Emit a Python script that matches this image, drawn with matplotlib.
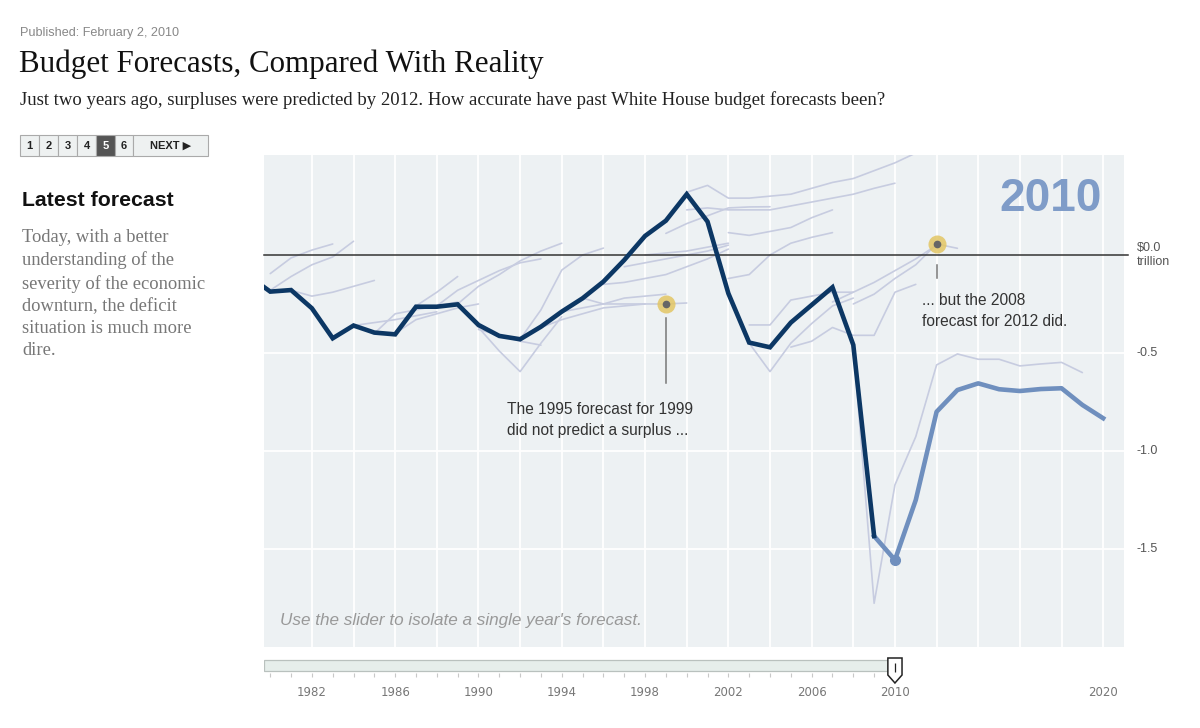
import matplotlib
matplotlib.use("Agg")
import matplotlib.pyplot as plt
from matplotlib.patches import Rectangle, Polygon

# ---- data: deficit (-) / surplus (+), trillions of dollars ----
actual_start = 1979
actual_values = [-0.11, -0.187, -0.179, -0.272, -0.425, -0.36, -0.396, -0.405,
                 -0.264, -0.264, -0.252, -0.357, -0.413, -0.43, -0.366, -0.289,
                 -0.221, -0.136, -0.026, 0.097, 0.175, 0.31, 0.17, -0.196,
                 -0.447, -0.471, -0.345, -0.255, -0.165, -0.459, -1.434]

# latest (2010) forecast, starts from the 2009 actual
latest_start = 2009
latest_values = [-1.434, -1.556, -1.25, -0.80, -0.689, -0.655, -0.685, -0.694,
                 -0.684, -0.68, -0.765, -0.833]

# older forecasts: first year plotted, values
forecast_starts = [1980, 1980, 1981, 1984, 1985, 1986, 1987, 1988, 1989, 1989,
                   1990, 1992, 1993, 1994, 1995, 1996, 1997, 1998, 1999, 2000,
                   2000, 2002, 2002, 2003, 2003, 2005, 2007, 2008, 2008]
forecast_values = [
    [-0.095, -0.015, 0.025, 0.056],
    [-0.18, -0.11, -0.05, -0.01, 0.07],
    [-0.18, -0.21, -0.19, -0.16, -0.13],
    [-0.36, -0.345, -0.33, -0.31, -0.29],
    [-0.40, -0.30, -0.28, -0.26, -0.24],
    [-0.40, -0.33, -0.30, -0.27, -0.25],
    [-0.26, -0.19, -0.11],
    [-0.26, -0.18, -0.13, -0.08, -0.04, -0.02],
    [-0.25, -0.16, -0.10, -0.03, 0.02, 0.06],
    [-0.25, -0.37, -0.49, -0.595, -0.45, -0.315],
    [-0.38, -0.41, -0.44, -0.46],
    [-0.43, -0.28, -0.077, 0.0, 0.035],
    [-0.37, -0.33, -0.30, -0.27, -0.26, -0.25],
    [-0.29, -0.27, -0.25, -0.22, -0.21, -0.20],
    [-0.22, -0.25, -0.25, -0.25, -0.25, -0.245],
    [-0.15, -0.14, -0.12, -0.10, -0.06, -0.02, 0.03],
    [-0.06, -0.04, -0.02, 0.0, 0.02, 0.05],
    [0.0, 0.01, 0.02, 0.04, 0.06],
    [0.11, 0.16, 0.20, 0.24, 0.245, 0.246],
    [0.23, 0.24, 0.23, 0.23, 0.23, 0.25, 0.27, 0.29, 0.31, 0.34, 0.366],
    [0.32, 0.355, 0.29, 0.29, 0.30, 0.31, 0.34, 0.37, 0.39, 0.43, 0.47, 0.52],
    [0.114, 0.10, 0.12, 0.14, 0.19, 0.23],
    [-0.12, -0.10, 0.0, 0.06, 0.09, 0.114],
    [-0.357, -0.357, -0.23, -0.21, -0.19, -0.19],
    [-0.45, -0.595, -0.45, -0.35, -0.26, -0.22],
    [-0.47, -0.44, -0.37, -0.41, -0.41, -0.19, -0.15],
    [-0.24, -0.19, -0.14, -0.08, -0.02, 0.05],
    [-0.25, -0.20, -0.12, -0.05, 0.056, 0.034],
    [-0.459, -1.777, -1.173, -0.927, -0.561, -0.505, -0.532, -0.532, -0.566,
     -0.556, -0.548, -0.60],
]

selected_year = 2010
tick_years = [1982, 1986, 1990, 1994, 1998, 2002, 2006, 2010, 2020]
y_ticks = [0.0, -0.5, -1.0, -1.5]
y_labels = ["\\$0.0\ntrillion", "-0.5", "-1.0", "-1.5"]
pages = ["1", "2", "3", "4", "5", "6", "NEXT \u25B6"]
current_page = "5"
notes = [  # (forecast made in, target year, text, text offset px, line px)
    (1995, 1999, "The 1995 forecast for 1999\ndid not predict a surplus ...", (-159, -98), (14, 79)),
    (2008, 2012, "... but the 2008\nforecast for 2012 did.", (-15, -49), (21, 34)),
]

SANS = ["Liberation Sans", "DejaVu Sans"]
SERIF = ["Liberation Serif", "DejaVu Serif"]

fig = plt.figure(figsize=(12, 7.28), dpi=100)

# background / page furniture in pixel coordinates
bg = fig.add_axes([0, 0, 1, 1], zorder=-1)
bg.set_xlim(0, 1200)
bg.set_ylim(728, 0)
bg.axis("off")

bg.text(20, 33, "Published: February 2, 2010", fontsize=9.1, color="#888888",
        family=SANS, va="center")
bg.text(19, 64, "Budget Forecasts, Compared With Reality", fontsize=22.3,
        color="#111111", family=SERIF, va="center")
bg.text(20, 100, "Just two years ago, surpluses were predicted by 2012. How accurate "
        "have past White House budget forecasts been?", fontsize=13.5,
        color="#222222", family=SERIF, va="center")

# pager buttons
edges = [20, 39, 58, 77, 96, 115, 133, 208]
for i, lab in enumerate(pages):
    active = lab == current_page
    bg.add_patch(Rectangle((edges[i], 135), edges[i + 1] - edges[i], 21,
                           fc="#555555" if active else "#eef1f1",
                           ec="#aaaaaa", lw=0.8))
    bg.text((edges[i] + edges[i + 1]) / 2, 146, lab, fontsize=8,
            color="white" if active else "#222222", family=SANS,
            weight="bold", ha="center", va="center")

bg.text(22, 200, "Latest forecast", fontsize=15.3, weight="bold",
        color="#111111", family=SANS, va="center")
bg.text(22, 229, "Today, with a better\nunderstanding of the\nseverity of the economic\n"
        "downturn, the deficit\nsituation is much more\ndire.", fontsize=13.3,
        color="#777777", family=SERIF, va="top", linespacing=1.40)

# ---- main chart ----
ax = fig.add_axes([264 / 1200, 1 - 647 / 728, 860 / 1200, 492 / 728])
ax.set_facecolor("#edf1f3")
ax.set_xlim(1979.7, 2021.0)
ax.set_ylim(-2.0, 0.51)
for s in ax.spines.values():
    s.set_visible(False)
ax.set_xticks(range(1982, 2021, 2))
ax.set_yticks([v for v in y_ticks if v != 0])
ax.grid(True, color="white", lw=1.3)
ax.tick_params(length=0, labelbottom=False, labelleft=False)
ax.set_axisbelow(True)

for start, vals in zip(forecast_starts, forecast_values):
    ax.plot(range(start, start + len(vals)), vals, color="#c7cce0", lw=1.2,
            zorder=2, solid_capstyle="round")

ax.plot([0, 1.005], [0, 0], transform=ax.get_yaxis_transform(),
        color="#333333", lw=1.1, clip_on=False, zorder=3)

ax.plot(range(actual_start, actual_start + len(actual_values)), actual_values,
        color="#0c3764", lw=3.3, zorder=5, solid_joinstyle="miter")
ax.plot(range(latest_start, latest_start + len(latest_values)), latest_values,
        color="#6f8fbe", lw=3.3, zorder=4)
ax.plot(selected_year, latest_values[selected_year - latest_start], "o",
        color="#6f8fbe", ms=7, zorder=6)

for v, lab in zip(y_ticks, y_labels):
    ax.text(1.015, v, lab, transform=ax.get_yaxis_transform(), fontsize=9,
            color="#555555", family=SANS, va="center", linespacing=1.15)

ax.text(0.974, 0.91, str(selected_year), transform=ax.transAxes, fontsize=33,
        weight="bold", color="#7f9cc8", family=SANS, ha="right", va="center")
ax.text(0.019, 0.054, "Use the slider to isolate a single year's forecast.",
        transform=ax.transAxes, fontsize=12.3, style="italic", color="#999999",
        family=SANS, va="center")

inv = ax.transData.inverted()
for made, year, text, toff, loff in notes:
    vals = forecast_values[forecast_starts.index(made)]
    val = vals[year - made]
    ax.plot(year, val, "o", ms=13, color="#e3c664", alpha=0.85, mec="none", zorder=7)
    ax.plot(year, val, "o", ms=4.5, color="#666666", zorder=8)
    ax.annotate(text, xy=(year, val), xytext=toff, textcoords="offset pixels",
                fontsize=11.2, color="#333333", family=SANS, va="top",
                linespacing=1.5, zorder=8)
    pix = ax.transData.transform((year, val))
    y0 = inv.transform((pix[0], pix[1] - loff[0]))[1]
    y1 = inv.transform((pix[0], pix[1] - loff[1]))[1]
    ax.plot([year, year], [y0, y1], color="#777777", lw=1.1, zorder=8)

# ---- slider ----
axs = fig.add_axes([264 / 1200, 1 - 705 / 728, 860 / 1200, 50 / 728])
axs.set_xlim(ax.get_xlim())
axs.set_ylim(705, 655)
axs.axis("off")
x0 = ax.get_xlim()[0]
axs.add_patch(Rectangle((x0, 659.5), selected_year - x0, 11, fc="#e6eeeb",
                        ec="#b9c1be", lw=0.9))
axs.vlines(range(1980, selected_year), 673, 677, color="#c8c8c8", lw=0.8)
axs.add_patch(Polygon([(selected_year - 0.34, 658), (selected_year + 0.34, 658),
                       (selected_year + 0.34, 675), (selected_year, 683),
                       (selected_year - 0.34, 675)], closed=True, fc="white",
                      ec="#222222", lw=1.1, zorder=5))
axs.vlines(selected_year, 663, 672, color="#222222", lw=0.9, zorder=6)
for yr in tick_years:
    axs.text(yr, 693, str(yr), fontsize=8.5, color="#777777", ha="center",
             va="center", family=["Liberation Sans Narrow", "DejaVu Sans"])

fig.savefig("out.png", dpi=100, facecolor="white")
